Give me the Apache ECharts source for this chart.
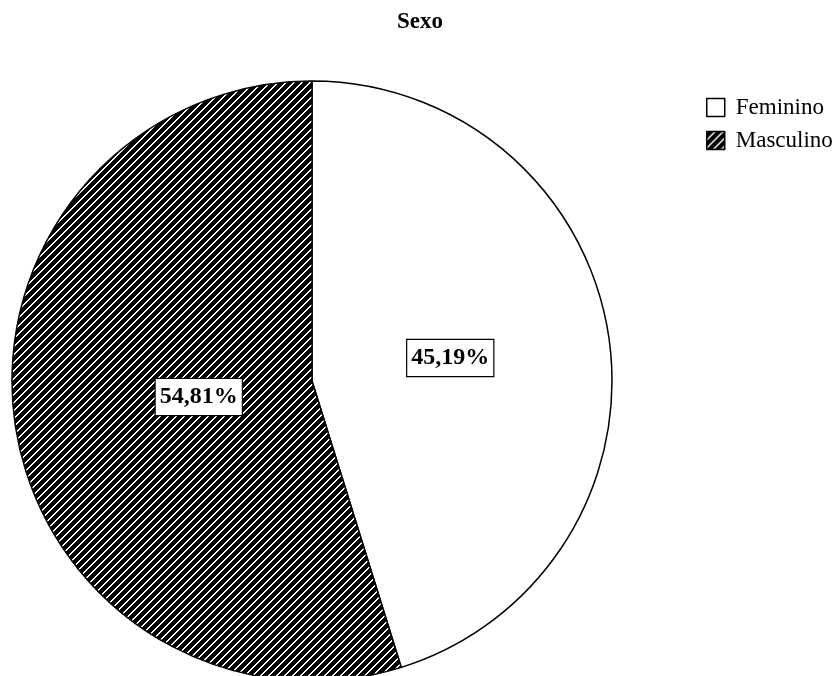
<!DOCTYPE html>
<html>
<head>
<meta charset="utf-8">
<script src="https://cdn.jsdelivr.net/npm/echarts@6/dist/echarts.min.js"></script>
<style>
  html, body { margin: 0; padding: 0; background: #fff; }
  #chart { width: 840px; height: 676px; }
</style>
</head>
<body>
<div id="chart"></div>
<script>
// Sex distribution
const categories = ['Feminino', 'Masculino'];
const values = [45.19, 54.81];
const chartTitle = 'Sexo';

// Diagonal hatch tile: black ground with crisp white "/" stripes, 8px period
function makeHatch() {
  const s = 8;
  const c = document.createElement('canvas');
  c.width = s; c.height = s;
  const g = c.getContext('2d');
  g.fillStyle = '#000';
  g.fillRect(0, 0, s, s);
  g.fillStyle = '#fff';
  for (let y = 0; y < s; y++) {
    const x = (s - 1 - y + s) % s;
    g.fillRect(x, y, 1, 1);
    g.fillRect((x + 1) % s, y, 1, 1);
  }
  return c;
}
const hatch = { image: makeHatch(), repeat: 'repeat' };
const fills = ['#ffffff', hatch];
const labelOffsets = [[-13, 0], [38, -7]];

const fontFamily = '"Liberation Serif", "Times New Roman", serif';

const chart = echarts.init(document.getElementById('chart'), null, { renderer: 'canvas' });
chart.setOption({
  animation: false,
  backgroundColor: '#fff',
  title: {
    text: chartTitle,
    left: 'center',
    top: 6,
    textStyle: { fontFamily, fontSize: 23, fontWeight: 'bold', color: '#000' }
  },
  legend: {
    orient: 'vertical',
    left: 701,
    top: 91,
    itemWidth: 18,
    itemHeight: 18,
    itemGap: 10,
    icon: 'rect',
    itemStyle: { borderColor: '#000', borderWidth: 1.5 },
    textStyle: { fontFamily, fontSize: 23, color: '#000', padding: [0, 0, 0, 6] },
    data: categories
  },
  series: [{
    type: 'pie',
    center: [312, 381],
    radius: 300,
    startAngle: 90,
    clockwise: true,
    avoidLabelOverlap: false,
    itemStyle: { borderColor: '#000', borderWidth: 1.5 },
    label: {
      show: true,
      position: 'inside',
      formatter: p => p.value.toFixed(2).replace('.', ',') + '%',
      fontFamily,
      fontSize: 24,
      fontWeight: 'bold',
      color: '#000',
      backgroundColor: '#fff',
      borderColor: '#000',
      borderWidth: 1.2,
      padding: [7, 4, 5, 4]
    },
    emphasis: { disabled: true },
    data: categories.map((name, i) => ({
      name,
      value: values[i],
      itemStyle: { color: fills[i] },
      label: { offset: labelOffsets[i] }
    }))
  }]
});
</script>
</body>
</html>
